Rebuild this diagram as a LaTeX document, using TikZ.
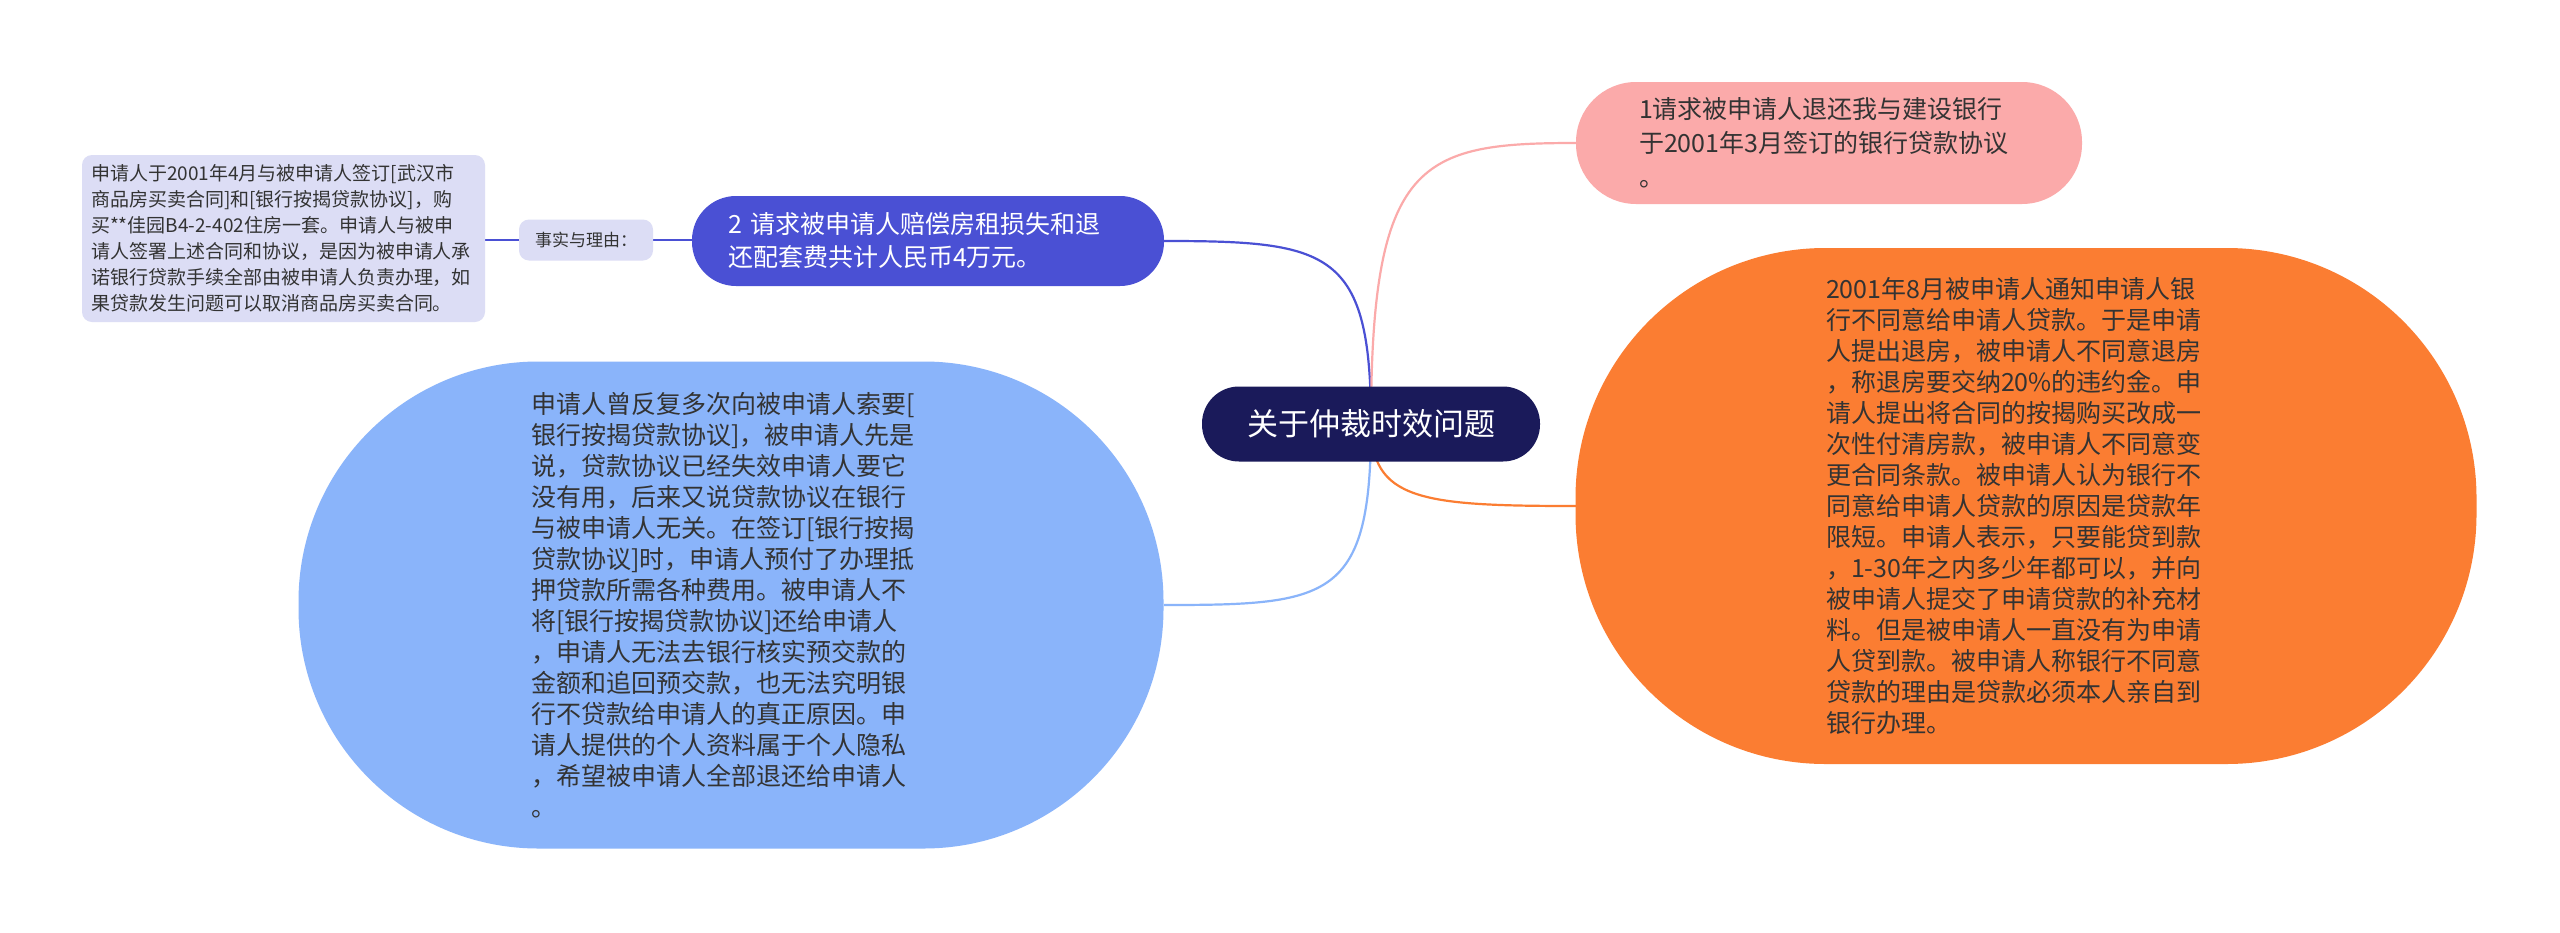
\documentclass[tikz,border=0pt]{standalone}
\usepackage{fontspec}
\setmainfont{Noto Sans CJK SC}
\definecolor{lav}{HTML}{DCDDF5}
\definecolor{vio}{HTML}{4A50D4}
\definecolor{navy}{HTML}{1A1A5A}
\definecolor{pinkc}{HTML}{FBAAAA}
\definecolor{orng}{HTML}{FB7D32}
\definecolor{lblue}{HTML}{8AB4FA}
\definecolor{txt}{HTML}{333333}
\begin{document}
\begin{tikzpicture}[x=1pt,y=-1pt,
 box/.style={rectangle,align=left,inner sep=0pt,text=txt},
 conn/.style={line width=2.2pt}]
\useasboundingbox[fill=white] (0,0) rectangle (2560,932);
% connectors
\coordinate (c0) at (1371,424);
\draw[conn,vio] (c0) .. controls (1371,250) and (1330,241) .. (1164,241);
\draw[conn,pinkc] (c0) .. controls (1371,160) and (1420,143) .. (1576,143);
\draw[conn,orng] (c0) .. controls (1371,500) and (1420,506) .. (1576,506);
\draw[conn,lblue] (c0) .. controls (1371,600) and (1330,605) .. (1164,605);
\draw[conn,vio] (485,240) -- (519,240);
\draw[conn,vio] (653,240) -- (692,240);
% nodes
\node[box,fill=lav,rounded corners=10pt,minimum width=403pt,minimum height=167pt,text width=385pt,font=\fontsize{19}{26}\selectfont] (facts) at (283.5,238.5)
{申请人于2001年4月与被申请人签订[武汉市\\商品房买卖合同]和[银行按揭贷款协议]，购\\买**佳园B4-2-402住房一套。申请人与被申\\请人签署上述合同和协议，是因为被申请人承\\诺银行贷款手续全部由被申请人负责办理，如\\果贷款发生问题可以取消商品房买卖合同。};
\node[box,fill=lav,rounded corners=10pt,minimum width=134pt,minimum height=41pt,align=center,font=\fontsize{17}{20}\selectfont] (reason) at (586,240) {事实与理由：};
\node[box,fill=vio,text=white,rounded corners=44pt,minimum width=472pt,minimum height=90pt,text width=400pt,font=\fontsize{25}{33}\selectfont] (req2) at (928,241)
{2 请求被申请人赔偿房租损失和退\\还配套费共计人民币4万元。};
\node[box,fill=pinkc,rounded corners=60pt,minimum width=506pt,minimum height=122pt,text width=380pt,font=\fontsize{25}{34}\selectfont] (req1) at (1829,143)
{1请求被申请人退还我与建设银行\\于2001年3月签订的银行贷款协议\\。};
\node[box,fill=orng,rounded corners=250pt,minimum width=901pt,minimum height=516pt,text width=400pt,font=\fontsize{25}{31}\selectfont] (orange) at (2026,506)
{2001年8月被申请人通知申请人银\\行不同意给申请人贷款。于是申请\\人提出退房，被申请人不同意退房\\，称退房要交纳20\%的违约金。申\\请人提出将合同的按揭购买改成一\\次性付清房款，被申请人不同意变\\更合同条款。被申请人认为银行不\\同意给申请人贷款的原因是贷款年\\限短。申请人表示，只要能贷到款\\，1-30年之内多少年都可以，并向\\被申请人提交了申请贷款的补充材\\料。但是被申请人一直没有为申请\\人贷到款。被申请人称银行不同意\\贷款的理由是贷款必须本人亲自到\\银行办理。};
\node[box,fill=lblue,rounded corners=240pt,minimum width=865pt,minimum height=487pt,text width=400pt,font=\fontsize{25}{31}\selectfont] (blue) at (731,605)
{申请人曾反复多次向被申请人索要[\\银行按揭贷款协议]，被申请人先是\\说，贷款协议已经失效申请人要它\\没有用，后来又说贷款协议在银行\\与被申请人无关。在签订[银行按揭\\贷款协议]时，申请人预付了办理抵\\押贷款所需各种费用。被申请人不\\将[银行按揭贷款协议]还给申请人\\，申请人无法去银行核实预交款的\\金额和追回预交款，也无法究明银\\行不贷款给申请人的真正原因。申\\请人提供的个人资料属于个人隐私\\，希望被申请人全部退还给申请人\\。};
\node[box,fill=navy,text=white,rounded corners=37pt,minimum width=338pt,minimum height=75pt,align=center,font=\fontsize{31}{36}\selectfont] (center) at (1371,424) {关于仲裁时效问题};
\end{tikzpicture}
\end{document}
